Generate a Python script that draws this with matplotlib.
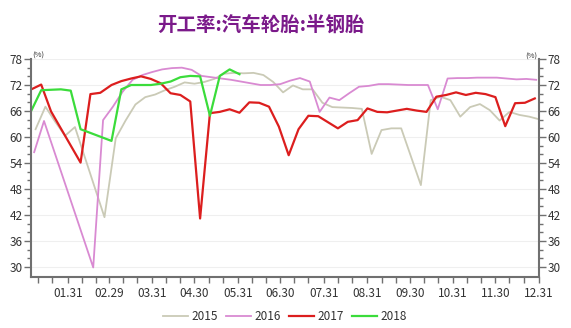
import matplotlib
matplotlib.use("Agg")
import matplotlib.pyplot as plt
import matplotlib.dates as mdates
import numpy as np
import pandas as pd

plt.rcParams['font.family'] = ['Noto Sans CJK SC', 'DejaVu Sans']

nan = np.nan

# weekly operating rate (%), first week of each year
years = ['2015', '2016', '2017', '2018']
first_week = ['2015-01-08', '2016-01-07', '2017-01-05', '2018-01-05']

rate_2015 = [61.8, 67.0, 63.5, 60.3, 62.3, nan, nan, 41.5, 59.7, 63.8,
             67.5, 69.2, 69.8, 70.8, 71.6, 72.6, 72.3, 72.7, 73.4, 74.6,
             74.8, 74.7, 74.8, 74.3, 72.7, 70.3, 71.9, 71.0, 71.0, 67.9,
             66.9, 66.8, 66.7, 66.5, 56.1, 61.6, 62.0, 62.0, nan, 48.9,
             68.5, 69.3, 68.5, 64.7, 66.9, 67.6, 66.2, 63.8, 65.8, 65.1,
             64.7, 64.1]
rate_2016 = [56.5, 63.7, nan, nan, nan, nan, 29.9, 63.9, 67.0, 70.5,
             73.2, 74.3, 75.0, 75.6, 75.9, 76.0, 75.5, 74.1, 73.8, 73.5,
             73.2, 72.8, 72.4, 72.0, 72.0, 72.2, 73.0, 73.6, 72.8, 65.8,
             69.1, 68.5, 70.1, 71.6, 71.8, 72.2, 72.2, 72.1, 72.0, 72.0,
             72.0, 66.4, 73.5, 73.6, 73.6, 73.7, 73.7, 73.7, 73.5, 73.3,
             73.4, 73.2]
rate_2017 = [71.0, 72.1, 65.9, nan, nan, 54.1, 69.9, 70.2, 72.0, 72.9,
             73.5, 74.0, 73.4, 72.4, 70.1, 69.7, 68.2, 41.2, 65.5, 65.8,
             66.4, 65.6, 68.0, 67.9, 67.0, 62.4, 55.8, 61.8, 64.9, 64.8,
             63.4, 62.0, 63.5, 63.9, 66.6, 65.8, 65.7, 66.1, 66.5, 66.1,
             65.8, 69.3, 69.7, 70.3, 69.7, 70.2, 69.9, 69.2, 62.5, 67.8,
             67.9, 68.9]
rate_2018 = [66.1, 70.8, 70.9, 71.0, 70.7, 61.8, nan, nan, 59.1, 71.0,
             72.0, 72.0, 72.0, 72.3, 72.8, 73.8, 74.1, 74.0, 64.9, 74.1,
             75.6, 74.5]

rates = [rate_2015, rate_2016, rate_2017, rate_2018]
colors = ['#CACAB6', '#D98AD2', '#DC1E1E', '#3BDC3B']
widths = [1.3, 1.3, 1.6, 1.6]

fig = plt.figure(figsize=(5.71, 3.28), dpi=100)
ax = fig.add_axes([31 / 571, 1 - 277 / 328, 508 / 571, 218 / 328])

for yr, start, vals, c, lw in zip(years, first_week, rates, colors, widths):
    dates = pd.date_range(start, periods=len(vals), freq='7D')
    # put every year on the same month.day axis
    dates = [pd.Timestamp(2016, d.month, d.day) for d in dates]
    s = pd.Series(vals, index=dates, dtype=float).dropna()
    ax.plot(s.index, s.values, color=c, lw=lw, label=yr)

ax.set_xlim(pd.Timestamp('2016-01-04 18:00'), pd.Timestamp('2016-12-31'))
ax.set_ylim(27.7, 78)

month_ends = pd.date_range('2016-01-31', '2016-12-31', freq='ME')
ax.xaxis.set_major_locator(plt.FixedLocator(mdates.date2num(month_ends)))
ax.xaxis.set_major_formatter(mdates.DateFormatter('%m.%d'))
ax.xaxis.set_minor_locator(mdates.DayLocator(bymonthday=[10, 20]))

ax.set_yticks(np.arange(30, 79, 6))
ax.set_yticks(np.arange(30, 79, 2), minor=True)
ax.yaxis.set_ticks_position('both')

ax.tick_params(axis='both', which='both', direction='out', color='#707070',
               width=1, labelsize=8.5, labelcolor='#333333')
ax.tick_params(axis='y', which='major', length=5, labelleft=True, labelright=True, pad=1)
ax.tick_params(axis='y', which='minor', length=3)
ax.tick_params(axis='x', which='both', length=4, pad=3)

for side in ['left', 'right', 'bottom']:
    ax.spines[side].set_color('#707070')
    ax.spines[side].set_linewidth(1.5)
ax.spines['top'].set_visible(False)

ax.yaxis.grid(True, color='#EFEFEF', lw=0.8)
ax.set_axisbelow(True)

fig.text(38.5 / 571, 1 - 56 / 328, '(%)', fontsize=5.5, ha='center', va='center', color='#333333')
fig.text(531 / 571, 1 - 57 / 328, '(%)', fontsize=5.5, ha='center', va='center', color='#333333')

fig.text(261 / 571, 1 - 25 / 328, '开工率:汽车轮胎:半钢胎', fontsize=14, fontweight='bold',
         color='#7B1A8A', ha='center', va='center')

fig.legend(loc='center', bbox_to_anchor=(285 / 571, 1 - 317 / 328), ncol=4, frameon=False,
           fontsize=8.5, handlelength=2.1, handletextpad=0.3, columnspacing=0.7,
           labelcolor='#333333')

fig.savefig('out.png', dpi=100)
